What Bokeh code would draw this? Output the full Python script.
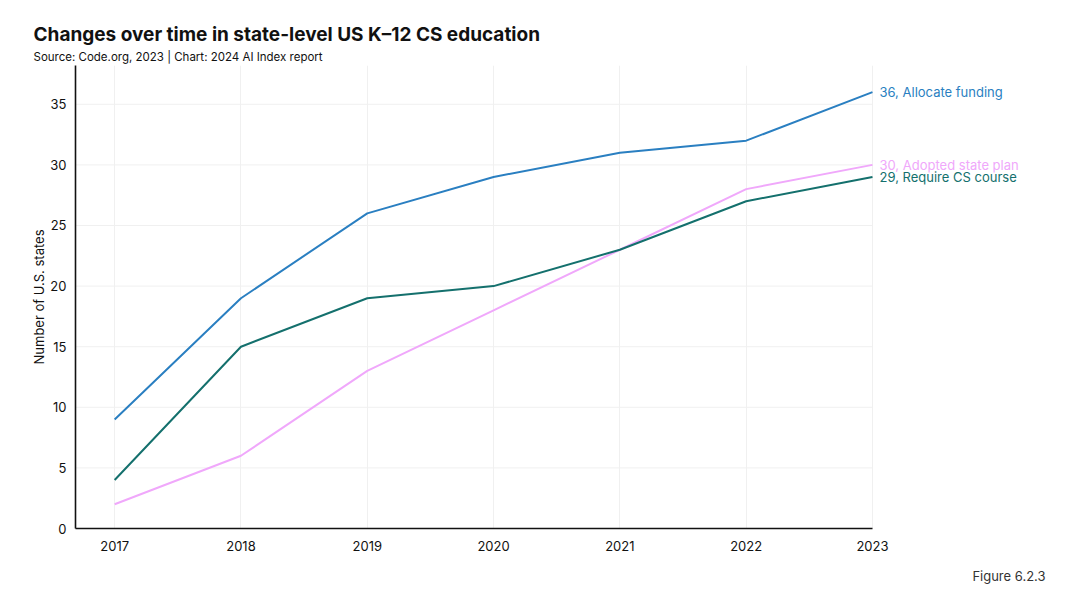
from bokeh.plotting import figure
from bokeh.models import Range1d, FixedTicker, Title
from bokeh.core.properties import value
from bokeh.embed import file_html
from bokeh.resources import INLINE

years = [2017, 2018, 2019, 2020, 2021, 2022, 2023]
allocate_funding = [9, 19, 26, 29, 31, 32, 36]
adopted_state_plan = [2, 6, 13, 18, 23, 28, 30]
require_cs_course = [4, 15, 19, 20, 23, 27, 29]
series_names = ["Allocate funding", "Adopted state plan", "Require CS course"]
series_colors = ["#2a7fc1", "#f0a8fb", "#14706d"]
y_ticks = [0, 5, 10, 15, 20, 25, 30, 35]

FONT = "Inter"
X_START, X_END = 2016.69, 2023
LABEL_ROOM = 1.37

p = figure(frame_width=970, frame_height=463, output_backend="svg", toolbar_location=None,
           x_range=Range1d(X_START, X_END + LABEL_ROOM), y_range=Range1d(0, 38.2),
           min_border_left=75, min_border_right=30, min_border_top=65, min_border_bottom=74)
p.outline_line_color = None
p.background_fill_color = "white"

# horizontal gridlines limited to the data span
p.segment(x0=[X_START] * len(y_ticks), x1=[X_END] * len(y_ticks), y0=y_ticks, y1=y_ticks,
          line_color="#f0f0f0", line_width=1)

all_series = [allocate_funding, adopted_state_plan, require_cs_course]
for vals, name, col in zip(all_series, series_names, series_colors):
    p.line(years, vals, line_color=col, line_width=2)
p.text(x=[years[-1]] * 3, y=[s[-1] for s in all_series],
       text=[f"{s[-1]}, {n}" for s, n in zip(all_series, series_names)],
       text_color=series_colors, x_offset=7, text_font=value(FONT), text_font_size="13px",
       text_baseline="middle", text_align="left")

p.xaxis.ticker = FixedTicker(ticks=years)
p.yaxis.ticker = FixedTicker(ticks=y_ticks)
p.xaxis.bounds = (X_START, X_END)
for ax in [p.xaxis[0], p.yaxis[0]]:
    ax.axis_line_color = "#111111"
    ax.axis_line_width = 1.6
    ax.major_tick_line_color = None
    ax.minor_tick_line_color = None
    ax.major_label_text_font = FONT
    ax.major_label_text_font_size = "13px"
    ax.major_label_text_color = "#111111"
p.xaxis.major_label_standoff = 6
p.yaxis.major_label_standoff = 3
p.yaxis.axis_label = "Number of U.S. states"
p.yaxis.axis_label_text_font = FONT
p.yaxis.axis_label_text_font_size = "13px"
p.yaxis.axis_label_text_font_style = "normal"
p.yaxis.axis_label_text_color = "#111111"
p.yaxis.axis_label_standoff = 0

p.xgrid.grid_line_color = "#f0f0f0"
p.ygrid.grid_line_color = None

p.add_layout(Title(text="Source: Code.org, 2023 | Chart: 2024 AI Index report",
                   text_font=FONT, text_font_size="11.5px", text_font_style="normal",
                   text_color="#111111", align="left", offset=-42, standoff=3), "above")
p.add_layout(Title(text="Changes over time in state-level US K\u201312 CS education",
                   text_font=FONT, text_font_size="19px", text_font_style="bold",
                   text_color="#111111", align="left", offset=-42, standoff=1), "above")
p.add_layout(Title(text="Figure 6.2.3", text_font=FONT, text_font_size="13px",
                   text_font_style="normal", text_color="#333333", align="right",
                   standoff=24), "below")

open("out.html", "w").write(file_html(p, INLINE))
